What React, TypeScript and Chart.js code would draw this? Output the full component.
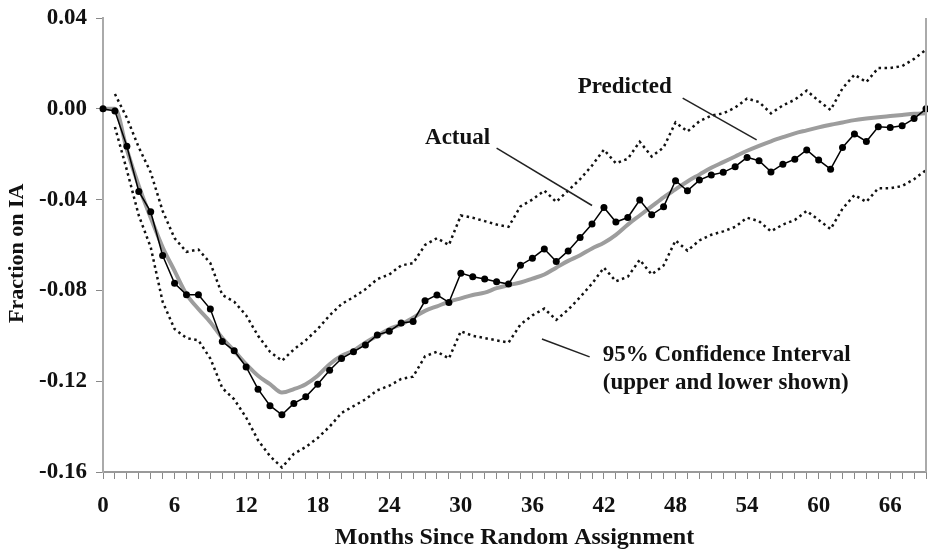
import React, { useEffect, useRef } from "react";
import { Chart, registerables } from "chart.js";

Chart.register(...registerables);

const months = [
  0, 1, 2, 3, 4, 5, 6, 7, 8, 9, 10, 11, 12, 13, 14, 15, 16, 17, 18, 19,
  20, 21, 22, 23, 24, 25, 26, 27, 28, 29, 30, 31, 32, 33, 34, 35, 36, 37, 38, 39,
  40, 41, 42, 43, 44, 45, 46, 47, 48, 49, 50, 51, 52, 53, 54, 55, 56, 57, 58, 59,
  60, 61, 62, 63, 64, 65, 66, 67, 68, 69,
];

const actual = [
  0, -0.001, -0.0165, -0.0364, -0.0454, -0.0646, -0.0769, -0.0819, -0.0819, -0.0882,
  -0.1025, -0.1066, -0.1137, -0.1235, -0.1308, -0.1348, -0.1298, -0.1269, -0.1213, -0.1152,
  -0.11, -0.107, -0.104, -0.0996, -0.098, -0.0944, -0.0937, -0.0846, -0.082, -0.0853,
  -0.0724, -0.074, -0.075, -0.0762, -0.0772, -0.0689, -0.0658, -0.0618, -0.0673, -0.0626,
  -0.0567, -0.0508, -0.0435, -0.0499, -0.0479, -0.0402, -0.0467, -0.0432, -0.0317, -0.0361,
  -0.0314, -0.0292, -0.028, -0.0255, -0.0214, -0.0229, -0.0278, -0.0244, -0.0222, -0.0181,
  -0.0226, -0.0266, -0.017, -0.0111, -0.0144, -0.0079, -0.0082, -0.0075, -0.0043, 0.0,
];

const predicted = [
  0, 0, -0.018, -0.034, -0.048, -0.061, -0.0714, -0.0817, -0.0882, -0.094,
  -0.101, -0.1066, -0.1125, -0.1176, -0.1213, -0.125, -0.1235, -0.1213, -0.1176, -0.1125,
  -0.1088, -0.1066, -0.103, -0.1, -0.097, -0.095, -0.092, -0.089, -0.087, -0.085,
  -0.0835, -0.082, -0.081, -0.079, -0.0777, -0.0765, -0.0748, -0.073, -0.07, -0.067,
  -0.0645, -0.0615, -0.059, -0.0555, -0.051, -0.047, -0.043, -0.039, -0.0355, -0.032,
  -0.029, -0.026, -0.0235, -0.021, -0.0185, -0.0163, -0.0143, -0.0125, -0.0108, -0.0095,
  -0.0082, -0.007, -0.006, -0.005, -0.0043, -0.0037, -0.0032, -0.0027, -0.0022, -0.002,
];

const upperCI = [
  null, 0.0065, -0.004, -0.017, -0.028, -0.045, -0.057, -0.063, -0.062, -0.068,
  -0.082, -0.085, -0.091, -0.1, -0.107, -0.111, -0.106, -0.102, -0.097, -0.091,
  -0.086, -0.083, -0.0795, -0.075, -0.073, -0.069, -0.068, -0.06, -0.057, -0.06,
  -0.047, -0.048, -0.0495, -0.051, -0.052, -0.043, -0.04, -0.036, -0.041, -0.036,
  -0.031, -0.025, -0.018, -0.024, -0.022, -0.0145, -0.021, -0.017, -0.006, -0.01,
  -0.0055, -0.003, -0.002, 0.0005, 0.0045, 0.003, -0.002, 0.0015, 0.004, 0.008,
  0.0035, -0.0005, 0.009, 0.015, 0.0118, 0.018, 0.018, 0.0188, 0.022, 0.026,
];

const lowerCI = [
  null, -0.008, -0.027, -0.047, -0.061, -0.085, -0.097, -0.101, -0.102, -0.11,
  -0.123, -0.128, -0.136, -0.146, -0.153, -0.158, -0.152, -0.149, -0.145, -0.14,
  -0.134, -0.131, -0.128, -0.124, -0.122, -0.119, -0.118, -0.109, -0.107, -0.11,
  -0.098, -0.1, -0.101, -0.102, -0.103, -0.095, -0.091, -0.088, -0.093, -0.0885,
  -0.083, -0.077, -0.07, -0.076, -0.074, -0.0665, -0.073, -0.069, -0.058, -0.0625,
  -0.058, -0.0555, -0.054, -0.052, -0.048, -0.0495, -0.054, -0.051, -0.049, -0.045,
  -0.049, -0.053, -0.044, -0.038, -0.041, -0.035, -0.035, -0.034, -0.031, -0.027,
];

const yTicks = [-0.16, -0.12, -0.08, -0.04, 0.0, 0.04];
const xLabelEvery = 6;

const FONT = "'Liberation Serif', 'Times New Roman', serif";

const toPoints = (vals: (number | null)[]) =>
  months.map((m, i) => ({ x: m, y: vals[i] }));

const annotationPlugin = {
  id: "annots",
  afterDraw(chart: any) {
    const { ctx, chartArea, scales } = chart;
    const xs = scales.x;
    const ys = scales.y;
    const px = (v: number) => xs.getPixelForValue(v);
    const py = (v: number) => ys.getPixelForValue(v);
    ctx.save();
    // right frame line
    ctx.strokeStyle = "#aaaaaa";
    ctx.lineWidth = 2;
    ctx.beginPath();
    ctx.moveTo(chartArea.right, chartArea.top);
    ctx.lineTo(chartArea.right, chartArea.bottom);
    ctx.stroke();

    // leader lines
    ctx.strokeStyle = "#222";
    ctx.lineWidth = 1.5;
    const seg = (x1: number, y1: number, x2: number, y2: number) => {
      ctx.beginPath();
      ctx.moveTo(px(x1), py(y1));
      ctx.lineTo(px(x2), py(y2));
      ctx.stroke();
    };
    seg(48.6, 0.0047, 54.8, -0.0137);
    seg(33.0, -0.0173, 41.0, -0.0426);
    seg(36.8, -0.1014, 40.8, -0.1093);

    ctx.fillStyle = "#111";
    ctx.font = `bold 23px ${FONT}`;
    ctx.textAlign = "left";
    ctx.textBaseline = "middle";
    ctx.fillText("Predicted", px(39.8), py(0.0095));
    ctx.fillText("Actual", px(27.0), py(-0.0129));
    ctx.fillText("95% Confidence Interval", px(41.9), py(-0.1084));
    ctx.fillText("(upper and lower shown)", px(41.9), py(-0.1207));
    ctx.restore();
  },
};

export default function App() {
  const ref = useRef<HTMLCanvasElement | null>(null);
  useEffect(() => {
    if (!ref.current) return;
    const chart = new Chart(ref.current, {
      type: "line",
      data: {
        datasets: [
          {
            label: "Actual",
            data: toPoints(actual),
            borderColor: "#000",
            backgroundColor: "#000",
            borderWidth: 1.5,
            pointRadius: 3.5,
            pointHoverRadius: 3.5,
            pointBorderWidth: 0,
            order: 0,
            clip: false,
          },
          {
            label: "Predicted",
            data: toPoints(predicted),
            borderColor: "#9d9d9d",
            borderWidth: 4,
            pointRadius: 0,
            cubicInterpolationMode: "monotone",
            order: 1,
            clip: false,
          },
          {
            label: "Upper",
            data: toPoints(upperCI),
            borderColor: "#111",
            borderWidth: 2.5,
            borderDash: [2.5, 3.5],
            pointRadius: 0,
            spanGaps: false,
            order: 2,
            clip: false,
          },
          {
            label: "Lower",
            data: toPoints(lowerCI),
            borderColor: "#111",
            borderWidth: 2.5,
            borderDash: [2.5, 3.5],
            pointRadius: 0,
            spanGaps: false,
            order: 2,
            clip: false,
          },
        ],
      },
      options: {
        animation: false,
        responsive: false,
        devicePixelRatio: 1,
        layout: { autoPadding: false, padding: { left: 0, top: 18, right: 2, bottom: 0 } },
        plugins: {
          legend: { display: false },
          tooltip: { enabled: false },
        },
        scales: {
          x: {
            type: "linear",
            min: months[0],
            max: months[months.length - 1],
            afterFit: (s: any) => {
              s.height = 81;
              s.paddingLeft = 0;
              s.paddingRight = 0;
            },
            grid: {
              display: true,
              drawOnChartArea: false,
              drawTicks: true,
              tickLength: 7,
              color: "#888",
              lineWidth: 1,
            },
            border: { display: true, color: "#999", width: 2 },
            ticks: {
              stepSize: 1,
              maxTicksLimit: 200,
              autoSkip: false,
              maxRotation: 0,
              padding: 13,
              color: "#111",
              font: { family: FONT, size: 23, weight: "bold" },
              callback: (v: any) => (Number(v) % xLabelEvery === 0 ? String(v) : ""),
            },
            title: {
              display: true,
              text: "Months Since Random Assignment",
              color: "#111",
              font: { family: FONT, size: 24, weight: "bold" },
              padding: { top: 0, bottom: 1 },
            },
          },
          y: {
            type: "linear",
            min: yTicks[0],
            max: yTicks[yTicks.length - 1],
            afterFit: (s: any) => {
              s.width = 103;
              s.paddingTop = 0;
              s.paddingBottom = 0;
            },
            afterBuildTicks: (s: any) => {
              s.ticks = yTicks.map((v) => ({ value: v }));
            },
            grid: {
              display: true,
              drawOnChartArea: false,
              drawTicks: true,
              tickLength: 7,
              color: "#888",
              lineWidth: 1,
            },
            border: { display: true, color: "#aaa", width: 2 },
            ticks: {
              padding: 9,
              color: "#111",
              font: { family: FONT, size: 23, weight: "bold" },
              callback: (v: any) => {
                const n = Number(v);
                return Math.abs(n) < 1e-9 ? "0.00" : n.toFixed(2);
              },
            },
            title: {
              display: true,
              text: "Fraction on IA   ",
              color: "#111",
              font: { family: FONT, size: 22, weight: "bold" },
              padding: { top: 4, bottom: 0 },
            },
          },
        },
      },
      plugins: [annotationPlugin],
    } as any);
    return () => chart.destroy();
  }, []);

  return (
    <div style={{ position: "fixed", left: 0, top: 0, width: 928, height: 553, background: "#fff" }}>
      <canvas ref={ref} width={928} height={553} style={{ display: "block" }} />
    </div>
  );
}
